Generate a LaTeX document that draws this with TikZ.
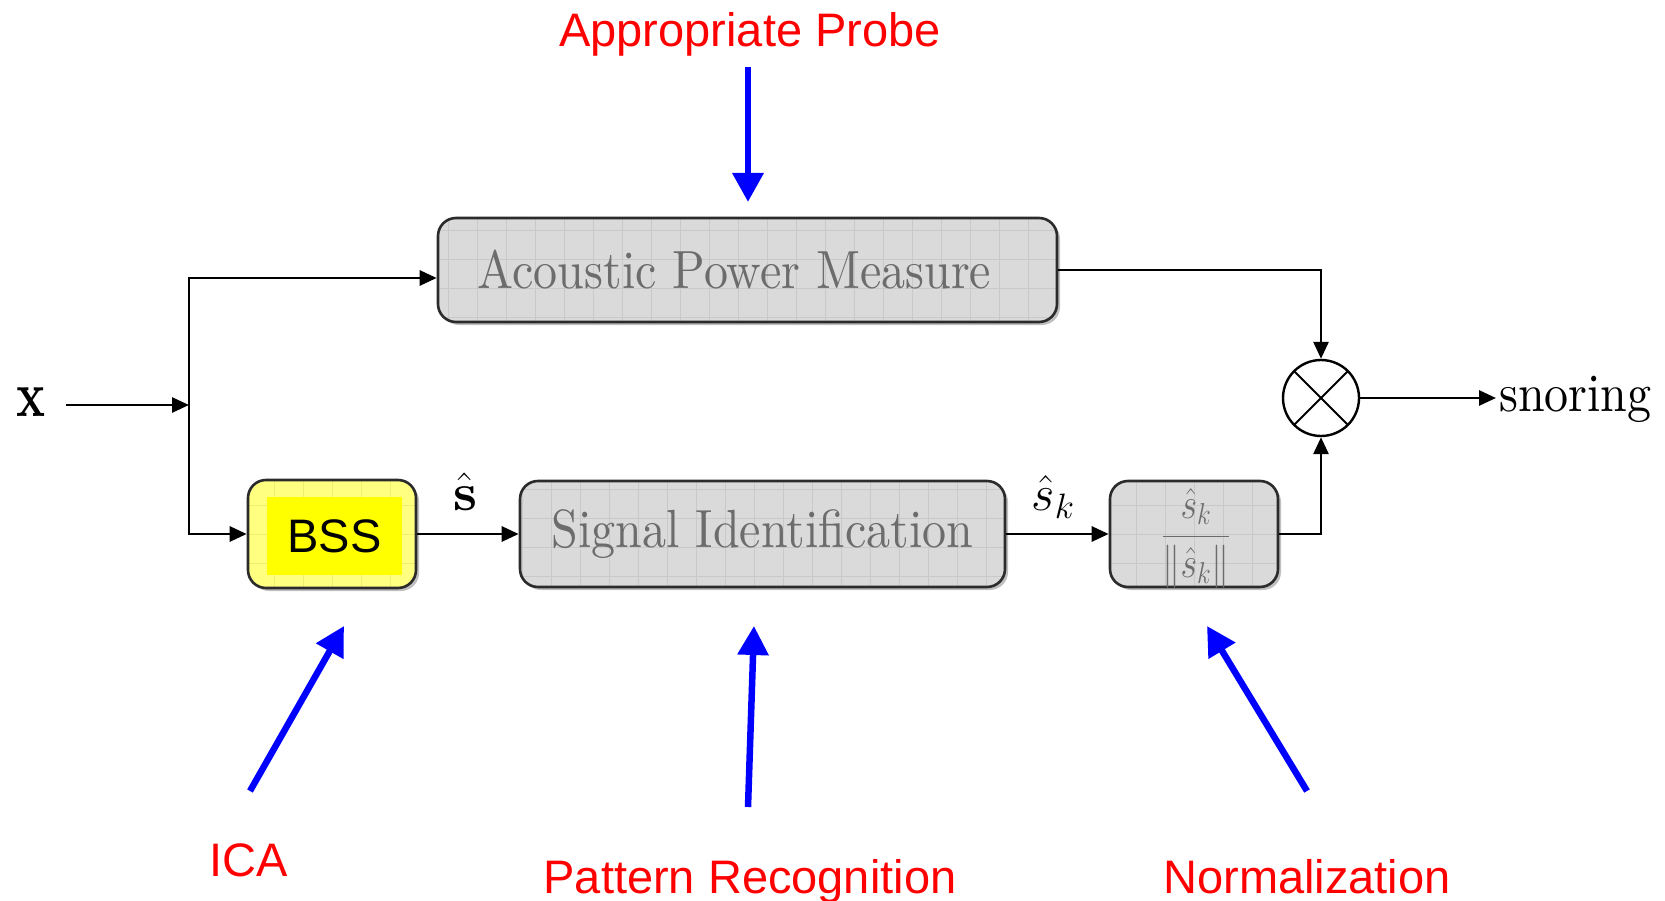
\RequirePackage{fix-cm}
\documentclass[tikz,border=0pt]{standalone}
\usepackage{amsmath}
\usepackage{fontspec}
\usepackage{graphicx}
\usetikzlibrary{arrows.meta,shadows,calc}

\setmainfont{lmroman10-regular}[Extension=.otf, BoldFont=lmroman10-bold, ItalicFont=lmroman10-italic]
\newfontfamily\labelsans{Liberation Sans}
\newcommand\blockfont{\fontsize{48}{56}\selectfont}
\newcommand\redfont{\labelsans\fontsize{47}{54}\selectfont}
\newcommand\gridfill[1]{\draw[#1, line width=1pt] (path picture bounding box.south west) grid[step=29pt] (path picture bounding box.north east);}

\definecolor{boxfill}{HTML}{DADADA}
\definecolor{boxgrid}{HTML}{C9C9C9}
\definecolor{boxline}{HTML}{2B2B2B}
\definecolor{boxtext}{HTML}{6C6C6C}
\definecolor{bssouter}{HTML}{FFFF80}
\definecolor{bssgrid}{HTML}{EEEE70}
\definecolor{bssinner}{HTML}{FFFF00}
\definecolor{notered}{HTML}{FF0000}
\definecolor{hintblue}{HTML}{0000FF}

\begin{document}
\begin{tikzpicture}[x=1pt,y=-1pt,
  conn/.style={line width=2.8pt, draw=black},
  arr/.style={-{Triangle[length=17pt,width=15pt]}},
  hint/.style={line width=6.5pt, draw=hintblue, -{Triangle[length=29pt,width=30pt]}},
  redlabel/.style={text=notered, font=\redfont, anchor=base, inner sep=0pt},
  procbox/.style={draw=boxline, line width=2.6pt, rounded corners=18pt, fill=boxfill,
    inner sep=0pt, text=boxtext, font=\blockfont,
    drop shadow={shadow xshift=3pt, shadow yshift=-3pt, opacity=0.25, fill=black},
    path picture={\gridfill{boxgrid}}},
]
\useasboundingbox (0,0) rectangle (1665,901);

% processing blocks
\node[procbox, minimum width=619pt, minimum height=104pt] (apm) at (747.5,270)
  {\scalebox{1}[1.12]{Acoustic Power Measure}\hspace*{26pt}};
\node[procbox, fill=bssouter, path picture={\gridfill{bssgrid}},
  minimum width=168pt, minimum height=108pt] (bss) at (332,534) {};
\node[fill=bssinner, minimum width=135pt, minimum height=78pt, inner sep=0pt,
  font=\labelsans\fontsize{47}{54}\selectfont] (bsslabel) at (334.5,536) {BSS};
\node[procbox, minimum width=168pt, minimum height=106pt] (si) at (762.5,534)
  [minimum width=485pt] {\scalebox{1}[1.12]{Signal Identification}};
\node[procbox, minimum width=168pt, minimum height=106pt] (norm) at (1194,534) {};
\node[inner sep=0pt, text=boxtext] (ratio) at (1196,538)
  {\scalebox{1}[1.2]{\fontsize{36}{42}\selectfont$\dfrac{\hat{s}_k}{\left\|\hat{s}_k\right\|}$}};

% multiplier
\node[draw, circle, line width=2.4pt, minimum size=76pt, inner sep=0pt, fill=white,
  path picture={\draw[line width=2pt]
    (path picture bounding box.north west) -- (path picture bounding box.south east)
    (path picture bounding box.north east) -- (path picture bounding box.south west);}]
  (mult) at (1321,398) {};

% signal names
\node[inner sep=0pt] (xin) at (31,402) {\blockfont\scalebox{1}[1.35]{\bfseries x}};
\node[inner sep=0pt] (shat) at (465,492) {\blockfont\scalebox{1.1}{$\hat{\text{\bfseries s}}$}};
\node[inner sep=0pt] (shatk) at (1053,497) {\blockfont\scalebox{1.05}{$\hat{s}_k$}};
\node[anchor=base west, inner sep=0pt, font=\blockfont] (snor) at (1499,411)
  {\scalebox{1}[1.12]{snoring}};

% signal flow
\coordinate (xout) at (66,405);
\coordinate (split) at (189,405);
\draw[conn, arr] (xout) -- (split);
\draw[conn, arr] (split) |- ($(apm.west)+(0,8)$);
\draw[conn, arr] (split) |- (bss.west);
\draw[conn, arr] (bss.east) -- (si.west);
\draw[conn, arr] (si.east) -- (norm.west);
\draw[conn, arr] (apm.east) -| (mult.north);
\draw[conn, arr] (norm.east) -| (mult.south);
\draw[conn, arr] (mult.east) -- ([xshift=-3pt]mult.east -| snor.west);

% annotations
\node[redlabel] (probe) at (750,47) {Appropriate Probe};
\node[redlabel] (ica) at (249,876) {ICA};
\node[redlabel] (pattern) at (750,893) {Pattern Recognition};
\node[redlabel] (normtxt) at (1307,893) {Normalization};

\coordinate (probeTail) at (748,67);
\coordinate (probeTip) at (748,202);
\coordinate (icaTail) at (250,791);
\coordinate (icaTip) at (344,626);
\coordinate (patTail) at (748,807);
\coordinate (patTip) at (754,626);
\coordinate (normTail) at (1307,791);
\coordinate (normTip) at (1207,626);
\draw[hint] (probeTail) -- (probeTip);
\draw[hint] (icaTail) -- (icaTip);
\draw[hint] (patTail) -- (patTip);
\draw[hint] (normTail) -- (normTip);
\end{tikzpicture}
\end{document}
